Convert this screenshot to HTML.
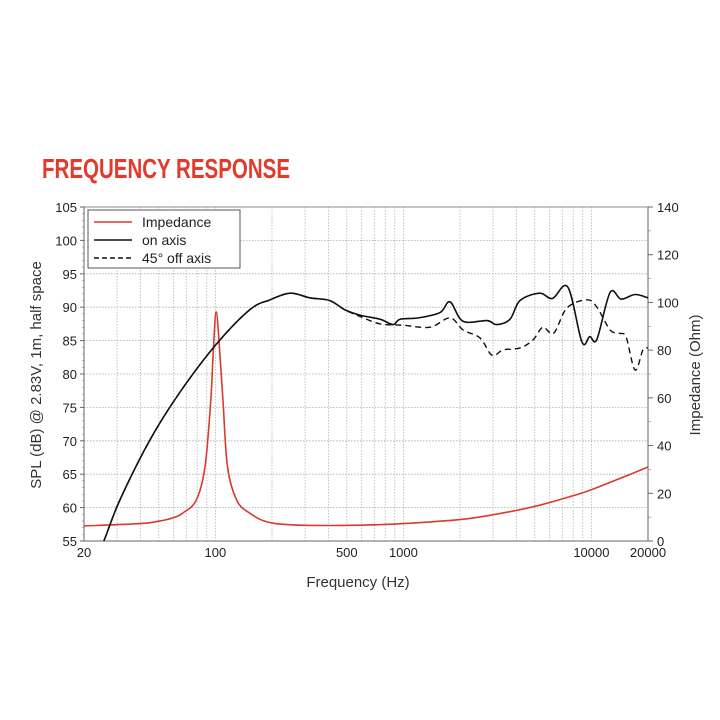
<!DOCTYPE html>
<html><head><meta charset="utf-8"><style>
html,body{margin:0;padding:0;background:#fff;}
svg{display:block;font-family:"Liberation Sans",sans-serif;}
</style></head><body>
<svg id="chart" width="720" height="720" viewBox="0 0 720 720">
<text x="42" y="178" font-size="28" font-weight="bold" fill="#e23b2e" textLength="248" lengthAdjust="spacingAndGlyphs">FREQUENCY RESPONSE</text>
<g id="grid"></g>
<g id="axes"></g>
<g id="series"></g>
<g>
<rect x="88" y="210" width="152" height="58" fill="#fff" stroke="#555" stroke-width="1"/>
<line x1="94" y1="222" x2="132" y2="222" stroke="#d93a2e" stroke-width="1.5"/>
<text x="142" y="227" font-size="14" fill="#222">Impedance</text>
<line x1="94" y1="240" x2="132" y2="240" stroke="#111" stroke-width="1.5"/>
<text x="142" y="245" font-size="14" fill="#222">on axis</text>
<line x1="94" y1="258" x2="132" y2="258" stroke="#111" stroke-width="1.5" stroke-dasharray="5,3"/>
<text x="142" y="263" font-size="14" fill="#222">45° off axis</text>
</g>
<text transform="translate(41,375) rotate(-90)" text-anchor="middle" font-size="15" fill="#333">SPL (dB) @ 2.83V, 1m, half space</text>
<text transform="translate(700,375) rotate(-90)" text-anchor="middle" font-size="15" fill="#333">Impedance (Ohm)</text>
<text x="358" y="587" text-anchor="middle" font-size="15" fill="#333">Frequency (Hz)</text>
</svg>
<script>
const xTickLabels=[20,100,500,1000,10000,20000];
const yLeftTicks=[55,60,65,70,75,80,85,90,95,100,105];
const yRightTicks=[0,20,40,60,80,100,120,140];
const onAxisFreq=[24,25.5,31,44.8,64.5,100,152,195,250,318,405,489,590,752,881,960,1200,1566,1770,2075,2785,3130,3690,4170,5300,6200,7500,8900,9800,10700,12570,14400,17060,20000];
const onAxisDb=[54,55,61.1,70.1,77.2,84.3,89.6,91.1,92.1,91.4,91,89.6,88.8,88.2,87.4,88.2,88.4,89.2,90.8,87.9,88.0,87.4,88.2,91.0,92.1,91.3,93.0,84.8,85.6,85.2,92.2,91.2,91.9,91.4];
const offAxisFreq=[24,25.5,31,44.8,64.5,100,152,195,250,318,405,489,590,752,1000,1386,1770,2075,2555,2960,3390,4170,4890,5520,6300,7420,9480,10700,12570,14100,15300,17060,18800,20000];
const offAxisDb=[54,55,61.1,70.1,77.2,84.3,89.6,91.1,92.1,91.4,91,89.6,88.6,87.5,87.3,87.0,88.4,86.6,85.4,82.8,83.6,83.9,85.1,87.0,86.1,89.9,91.1,90.0,86.6,86.1,85.5,80.6,83.6,83.9];
const impFreq=[20,40,50,60,67,79,88,94.5,97.5,101,105.3,109.7,116,130,152,188,250,400,700,1000,2000,3000,5000,8000,10000,15000,20000];
const impOhm=[6.3,7.3,8.3,9.8,11.7,17,31,59,80,96,80,59,31,17,11.7,8,6.8,6.5,6.8,7.3,9,11,14.5,19,21.5,27,31];

const L=84,R=648,T=207,B=541;
const x=f=>L+(Math.log10(f)-Math.log10(20))/(Math.log10(20000)-Math.log10(20))*(R-L);
const yL=d=>B-(d-55)/50*(B-T);
const yR=o=>B-o/140*(B-T);
const NS="http://www.w3.org/2000/svg";
function mk(parent,tag,attrs){const e=document.createElementNS(NS,tag);for(const k in attrs)e.setAttribute(k,attrs[k]);parent.appendChild(e);return e;}
const grid=document.getElementById('grid'),axes=document.getElementById('axes'),series=document.getElementById('series');
for(let dec=10;dec<=10000;dec*=10){for(let m=1;m<10;m++){const f=dec*m;if(f<20||f>20000)continue;
const g=mk(grid,'line',{x1:x(f),x2:x(f),y1:T,y2:B,stroke:'#b4b4b4','stroke-width':0.8,'stroke-dasharray':'1.5,1.5'});

}}
mk(grid,'line',{x1:x(20000),x2:x(20000),y1:T,y2:B,stroke:'#aaa','stroke-width':0.8});
yLeftTicks.forEach(d=>{const g=mk(grid,'line',{x1:L,x2:R,y1:yL(d),y2:yL(d),stroke:'#aaa','stroke-width':0.8,'stroke-dasharray':'1.5,1.5'});


const t=mk(axes,'text',{x:L-7,y:yL(d)+5,'text-anchor':'end','font-size':13,fill:'#222'});t.textContent=d;


mk(axes,'line',{x1:L-4,x2:L,y1:yL(d),y2:yL(d),stroke:'#666'});});
for(let d=56;d<105;d++){if(d%5)mk(axes,'line',{x1:L-2,x2:L,y1:yL(d),y2:yL(d),stroke:'#888','stroke-width':0.6});}
yRightTicks.forEach(o=>{const t=mk(axes,'text',{x:R+9,y:yR(o)+5,'font-size':13,fill:'#222'});t.textContent=o;


mk(axes,'line',{x1:R,x2:R+5,y1:yR(o),y2:yR(o),stroke:'#666'});
if(o<140)mk(axes,'line',{x1:R,x2:R+3,y1:yR(o+10),y2:yR(o+10),stroke:'#888','stroke-width':0.6});});
xTickLabels.forEach(f=>{const t=mk(axes,'text',{x:x(f),y:B+16,'text-anchor':'middle','font-size':13,fill:'#222'});t.textContent=f;

});
mk(axes,'line',{x1:L,x2:L,y1:T,y2:B,stroke:'#666'});
mk(axes,'line',{x1:R,x2:R,y1:T,y2:B,stroke:'#666'});
mk(axes,'line',{x1:L,x2:R,y1:B,y2:B,stroke:'#666'});
mk(axes,'line',{x1:L,x2:R,y1:T,y2:T,stroke:'#888'});
function path(pts){let d='M'+pts[0][0]+','+pts[0][1];
for(let i=0;i<pts.length-1;i++){const p0=pts[i-1]||pts[i],p1=pts[i],p2=pts[i+1],p3=pts[i+2]||p2;
const c1=[p1[0]+(p2[0]-p0[0])/6,p1[1]+(p2[1]-p0[1])/6],c2=[p2[0]-(p3[0]-p1[0])/6,p2[1]-(p3[1]-p1[1])/6];
d+=' C'+c1+' '+c2+' '+p2;}return d;}
const defs=mk(document.getElementById('chart'),'defs',{});
const cp=mk(defs,'clipPath',{id:'clip'});mk(cp,'rect',{x:L,y:T,width:R-L,height:B-T});
const s1=mk(series,'path',{d:path(impFreq.map((f,i)=>[x(f),yR(impOhm[i])])),fill:'none',stroke:'#d93a2e','stroke-width':1.6,'clip-path':'url(#clip)'});


const s3=mk(series,'path',{d:path(offAxisFreq.map((f,i)=>[x(f),yL(offAxisDb[i])])),fill:'none',stroke:'#111','stroke-width':1.4,'stroke-dasharray':'6,4','clip-path':'url(#clip)'});


const s2=mk(series,'path',{d:path(onAxisFreq.map((f,i)=>[x(f),yL(onAxisDb[i])])),fill:'none',stroke:'#111','stroke-width':1.6,'clip-path':'url(#clip)'});


</script>
</body></html>
